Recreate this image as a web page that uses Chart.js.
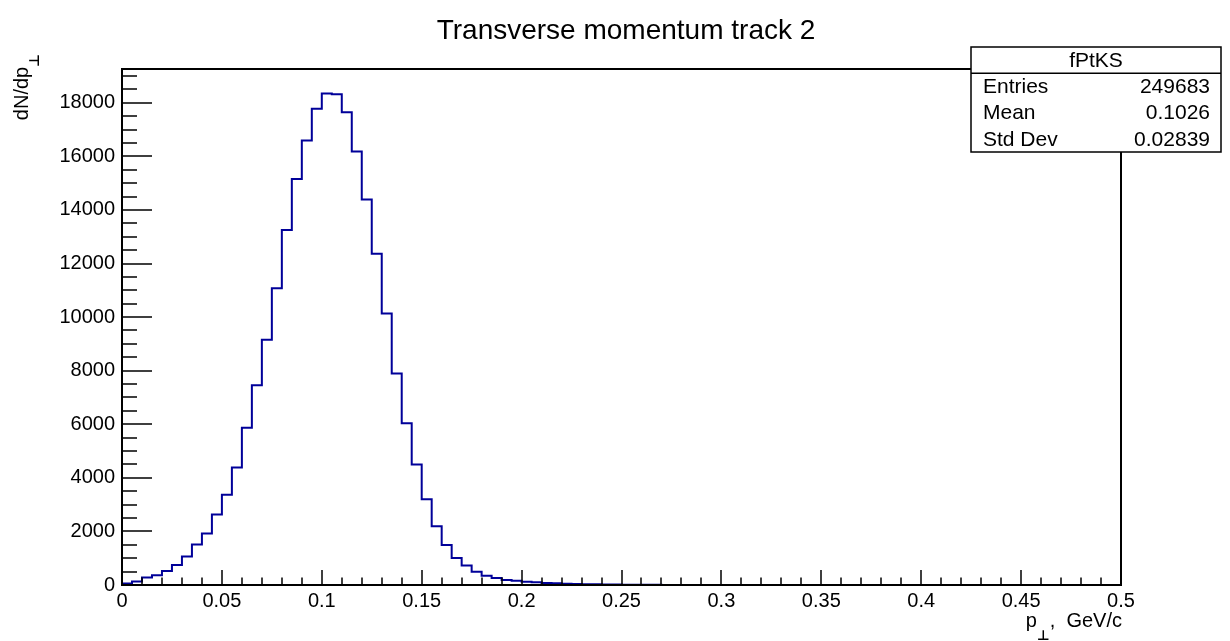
<!DOCTYPE html>
<html>
<head>
<meta charset="utf-8">
<style>
  html, body { margin: 0; padding: 0; background: #fff; }
  #wrap { width: 1230px; height: 641px; position: relative; }
</style>
</head>
<body>
<div id="wrap"><canvas id="hist"></canvas></div>
<script src="https://cdn.jsdelivr.net/npm/chart.js@4.4.1/dist/chart.umd.min.js"></script>
<script>
// histogram: 100 bins of 0.005 GeV/c from 0 to 0.5
const histName = 'fPtKS';
const histTitle = 'Transverse momentum track 2';
const binLow = 0;
const binWidth = 0.005;
const counts = [
  60, 130, 280, 360, 525, 745, 1065, 1515, 1925, 2630,
  3365, 4390, 5865, 7460, 9150, 11080, 13250, 15150, 16590, 17780,
  18345, 18320, 17650, 16180, 14390, 12360, 10130, 7895, 6035, 4495,
  3197, 2195, 1495, 1010, 725, 492, 347, 260, 186, 161,
  124, 99, 74, 62, 48, 38, 30, 24, 18, 14,
  11, 9, 7, 5, 4, 3, 3, 2, 2, 2,
  1, 1, 1, 1, 1, 1, 0, 1, 0, 0,
  0, 0, 0, 0, 0, 0, 0, 0, 0, 0,
  0, 0, 0, 0, 0, 0, 0, 0, 0, 0,
  0, 0, 0, 0, 0, 0, 0, 0, 0, 0
];
const statLabels = ['Entries', 'Mean', 'Std Dev'];
const statValues = ['249683', '0.1026', '0.02839'];
const xTitle = ['p', '\u22A5', ',  GeV/c'];
const yTitle = ['dN/dp', '\u22A5'];
const yMax = 19260;
// tick marks: x every 0.01 (labels every 0.05), y every 500 (labels every 2000)
const xTickValues = Array.from({length: 51}, (_, i) => i / 100);
const yTickValues = Array.from({length: 39}, (_, i) => i * 500);

const FONT = '"Liberation Sans", Arial, Helvetica, sans-serif';
const SYM = '"DejaVu Sans", sans-serif';
Chart.defaults.font.family = FONT;
Chart.defaults.color = '#000';

// step outline: one point per bin low edge, plus the closing edge
const points = [{x: binLow, y: 0}];
counts.forEach((c, i) => points.push({x: binLow + i * binWidth, y: c}));
points.push({x: binLow + counts.length * binWidth, y: counts[counts.length - 1]});

const isXMajor = v => Math.round(v * 100) % 5 === 0;
const isYMajor = v => Math.round(v) % 2000 === 0;

// ROOT-like frame: ticks inside the frame, stats box, titles
const rootFrame = {
  id: 'rootFrame',
  afterDatasetsDraw(chart) {
    const {ctx, chartArea: a, scales: {x, y}} = chart;
    ctx.save();
    ctx.strokeStyle = '#000';
    ctx.lineWidth = 1.5;
    ctx.beginPath();
    x.ticks.forEach(t => {
      const px = Math.round(x.getPixelForValue(t.value));
      ctx.moveTo(px, a.bottom);
      ctx.lineTo(px, a.bottom - (isXMajor(t.value) ? 15 : 7.5));
    });
    y.ticks.forEach(t => {
      const py = Math.round(y.getPixelForValue(t.value));
      ctx.moveTo(a.left, py);
      ctx.lineTo(a.left + (isYMajor(t.value) ? 30 : 15), py);
    });
    ctx.stroke();
    ctx.lineWidth = 2;
    ctx.strokeRect(a.left, a.top, a.right - a.left, a.bottom - a.top);
    ctx.restore();
  },
  afterDraw(chart) {
    const {ctx, chartArea: a} = chart;
    ctx.save();
    ctx.fillStyle = '#000';

    // title
    ctx.font = '28px ' + FONT;
    ctx.textAlign = 'center';
    ctx.textBaseline = 'alphabetic';
    ctx.fillText(histTitle, 626, 39);

    // x axis title, right aligned to the frame end
    ctx.font = '20px ' + FONT;
    ctx.textAlign = 'right';
    ctx.fillText(xTitle[2], a.right + 1, 627);
    const restW = ctx.measureText(xTitle[2]).width;
    ctx.font = 'bold 14px ' + SYM;
    const perpW = ctx.measureText(xTitle[1]).width;
    ctx.fillText(xTitle[1], a.right + 1 - restW, 640);
    ctx.font = '20px ' + FONT;
    ctx.fillText(xTitle[0], a.right + 1 - restW - perpW, 627);

    // y axis title, rotated
    ctx.translate(28, 54);
    ctx.rotate(-Math.PI / 2);
    ctx.font = 'bold 14px ' + SYM;
    ctx.textAlign = 'right';
    ctx.fillText(yTitle[1], 0, 11);
    const pw = ctx.measureText(yTitle[1]).width;
    ctx.font = '20px ' + FONT;
    ctx.fillText(yTitle[0], -pw, 0);
    ctx.setTransform(1, 0, 0, 1, 0, 0);

    // stats box
    const bx = 971, by = 47, bw = 250, bh = 105;
    const rowH = bh / (statLabels.length + 1);
    ctx.fillStyle = '#fff';
    ctx.fillRect(bx, by, bw, bh);
    ctx.strokeStyle = '#000';
    ctx.lineWidth = 1.5;
    ctx.strokeRect(bx, by, bw, bh);
    ctx.beginPath();
    ctx.moveTo(bx, by + rowH);
    ctx.lineTo(bx + bw, by + rowH);
    ctx.stroke();
    ctx.fillStyle = '#000';
    ctx.font = '21px ' + FONT;
    ctx.textBaseline = 'middle';
    ctx.textAlign = 'center';
    ctx.fillText(histName, bx + bw / 2, by + rowH / 2 + 1);
    statLabels.forEach((lab, i) => {
      const cy = by + rowH * (i + 1.5) + 1;
      ctx.textAlign = 'left';
      ctx.fillText(lab, bx + 12, cy);
      ctx.textAlign = 'right';
      ctx.fillText(statValues[i], bx + bw - 11, cy);
    });
    ctx.restore();
  }
};

new Chart(document.getElementById('hist'), {
  type: 'line',
  data: {
    datasets: [{
      label: histName,
      data: points,
      stepped: true,
      borderColor: '#000099',
      borderWidth: 2,
      pointRadius: 0,
      fill: false
    }]
  },
  options: {
    responsive: true,
    maintainAspectRatio: false,
    animation: false,
    layout: { padding: { top: 69, right: 109, left: 0, bottom: 0 } },
    plugins: {
      legend: { display: false },
      tooltip: { enabled: false },
      title: { display: false }
    },
    scales: {
      x: {
        type: 'linear',
        min: 0,
        max: 0.5,
        grid: { display: false, drawTicks: false },
        border: { display: false },
        afterBuildTicks: s => { s.ticks = xTickValues.map(v => ({value: v})); },
        ticks: {
          autoSkip: false,
          maxRotation: 0,
          minRotation: 0,
          padding: 4,
          font: { size: 20 },
          callback: v => (isXMajor(v) ? String(Math.round(v * 100) / 100) : '')
        },
        afterFit: s => { s.height = 56; s.paddingLeft = 0; s.paddingRight = 0; }
      },
      y: {
        type: 'linear',
        min: 0,
        max: yMax,
        grid: { display: false, drawTicks: false },
        border: { display: false },
        afterBuildTicks: s => { s.ticks = yTickValues.map(v => ({value: v})); },
        ticks: {
          autoSkip: false,
          padding: 7,
          font: { size: 20 },
          callback: v => (isYMajor(v) ? String(v) : '')
        },
        afterFit: s => { s.width = 122; s.paddingTop = 0; s.paddingBottom = 0; }
      }
    }
  },
  plugins: [rootFrame]
});
</script>
</body>
</html>
